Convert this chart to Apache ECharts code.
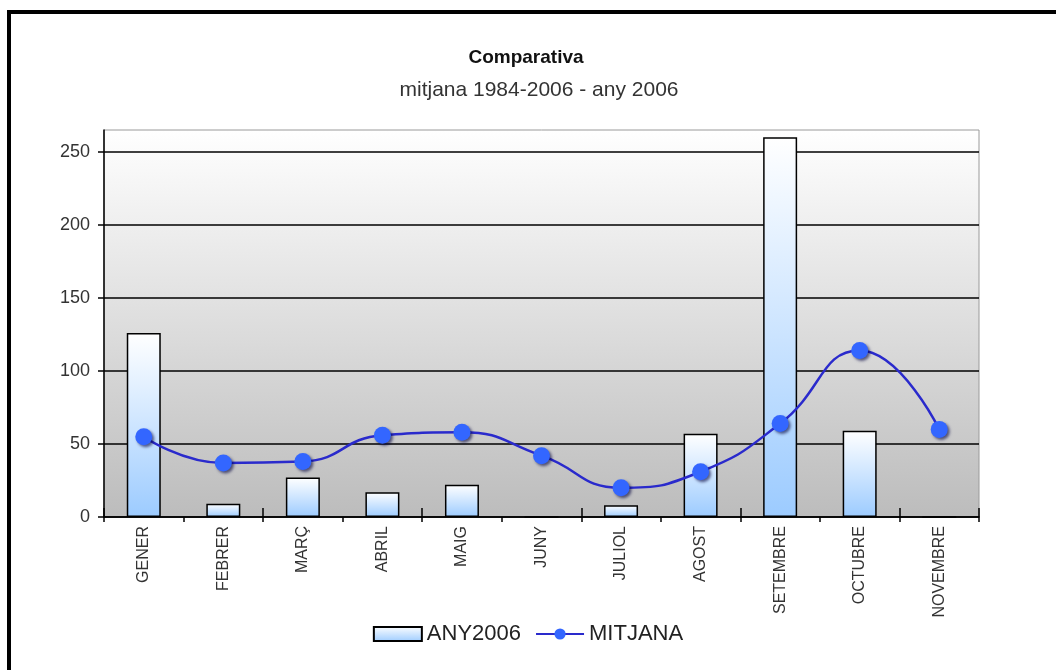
<!DOCTYPE html>
<html>
<head>
<meta charset="utf-8">
<title>Comparativa</title>
<script src="https://cdn.jsdelivr.net/npm/echarts@6/dist/echarts.min.js"></script>
<style>
  html, body { margin: 0; padding: 0; background: #ffffff; }
  #chart { width: 1056px; height: 670px; }
</style>
</head>
<body>
<div id="chart"></div>
<script>
// Monthly rainfall: 2006 totals against the 1984-2006 average
const categories = ['GENER', 'FEBRER', 'MARÇ', 'ABRIL', 'MAIG', 'JUNY', 'JULIOL', 'AGOST', 'SETEMBRE', 'OCTUBRE', 'NOVEMBRE'];
const any2006 = [126, 9, 27, 17, 22, 0, 8, 57, 260, 59, 0];
const mitjana = [55, 37, 38, 56, 58, 42, 20, 31, 64, 114, 60];
const yTicks = [0, 50, 100, 150, 200, 250];
const yMax = 265;

const FONT = "'Liberation Sans', Arial, sans-serif";

const chart = echarts.init(document.getElementById('chart'), null, { renderer: 'canvas' });

chart.setOption({
  animation: false,
  backgroundColor: '#ffffff',
  title: [{
    text: 'Comparativa',
    left: 521,
    textAlign: 'center',
    top: 43,
    textStyle: { fontFamily: FONT, fontSize: 19, fontWeight: 'bold', color: '#111111' }
  }, {
    text: 'mitjana 1984-2006 - any 2006',
    left: 534,
    textAlign: 'center',
    top: 75,
    textStyle: { fontFamily: FONT, fontSize: 21, fontWeight: 'normal', color: '#333333' }
  }],
  legend: {
    bottom: 20,
    left: 'center',
    itemWidth: 48,
    itemHeight: 14,
    itemGap: 14,
    textStyle: { fontFamily: FONT, fontSize: 22, color: '#222222' },
    data: [
      { name: 'ANY2006', icon: 'rect' },
      { name: 'MITJANA' }
    ]
  },
  graphic: [{
    type: 'rect',
    shape: { x: 9, y: 12, width: 1200, height: 800 },
    style: { fill: 'none', stroke: '#000000', lineWidth: 4 },
    silent: true,
    z: 100
  }],
  grid: {
    left: 104,
    right: 77,
    top: 130,
    bottom: 153,
    show: true,
    borderColor: '#9a9a9a',
    borderWidth: 1,
    backgroundColor: {
      type: 'linear', x: 0, y: 0, x2: 0, y2: 1,
      colorStops: [
        { offset: 0, color: '#ffffff' },
        { offset: 1, color: '#bcbcbc' }
      ]
    }
  },
  xAxis: [{
    type: 'category',
    data: categories,
    boundaryGap: true,
    axisLine: { lineStyle: { color: '#000000', width: 1.5 } },
    axisTick: { show: true, inside: false, length: 5, lineStyle: { color: '#000000', width: 1.5 } },
    axisLabel: {
      rotate: 90,
      margin: 9,
      interval: 0,
      fontFamily: FONT,
      fontSize: 16,
      color: '#333333'
    },
    splitLine: { show: false }
  }, {
    // inner half of the boundary ticks that cross the category axis
    type: 'category',
    data: categories,
    position: 'bottom',
    boundaryGap: true,
    axisLine: { show: false },
    axisTick: { show: true, inside: true, length: 9, lineStyle: { color: '#000000', width: 1.5 } },
    axisLabel: { show: false },
    splitLine: { show: false }
  }],
  yAxis: {
    type: 'value',
    min: 0,
    max: yMax,
    interval: 50,
    axisLine: { show: true, lineStyle: { color: '#000000', width: 1.5 } },
    axisTick: { show: true, length: 6, customValues: yTicks, lineStyle: { color: '#000000', width: 1.5 } },
    axisLabel: {
      customValues: yTicks,
      margin: 14,
      fontFamily: FONT,
      fontSize: 18,
      color: '#333333'
    },
    splitLine: { show: true, lineStyle: { color: '#000000', width: 1.5 } }
  },
  series: [{
    name: 'ANY2006',
    type: 'bar',
    data: any2006,
    barWidth: 34,
    itemStyle: {
      color: {
        type: 'linear', x: 0, y: 0, x2: 0, y2: 1,
        colorStops: [
          { offset: 0, color: '#ffffff' },
          { offset: 1, color: '#9ccbff' }
        ]
      },
      borderColor: '#000000',
      borderWidth: 1.5
    },
    z: 2
  }, {
    name: 'MITJANA',
    type: 'line',
    data: mitjana,
    smooth: 0.5,
    symbol: 'circle',
    symbolSize: 17,
    lineStyle: { color: '#2a2acc', width: 2.5 },
    itemStyle: {
      color: '#3366ff',
      shadowColor: 'rgba(0, 0, 60, 0.6)',
      shadowBlur: 3,
      shadowOffsetX: 2,
      shadowOffsetY: 2
    },
    z: 3
  }]
});
</script>
</body>
</html>
